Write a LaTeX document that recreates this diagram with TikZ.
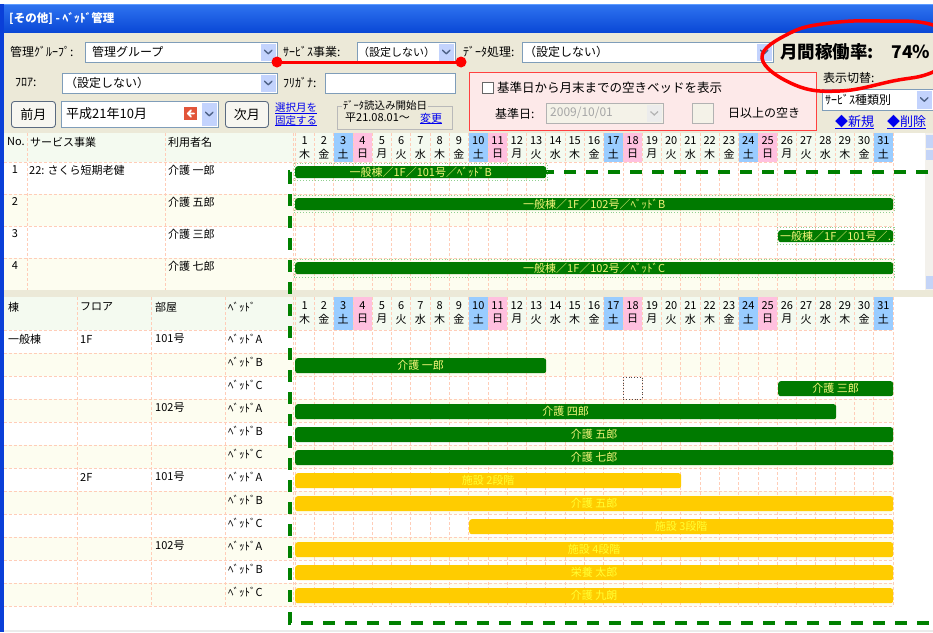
\documentclass[tikz,border=0pt]{standalone}
\usepackage{fontspec}
\setmainfont{Noto Sans CJK JP}
\definecolor{beige}{HTML}{ECE9D8}
\definecolor{titlet}{HTML}{2F74F0}
\definecolor{titleb}{HTML}{0A48D6}
\definecolor{titlel}{HTML}{5C9BFF}
\definecolor{framec}{HTML}{0A3FD8}
\definecolor{gridc}{HTML}{FFCDB8}
\definecolor{lyel}{HTML}{FDFDF0}
\definecolor{hdr}{HTML}{F4FAF0}
\definecolor{sat}{HTML}{99CCFF}
\definecolor{sun}{HTML}{FFC0DF}
\definecolor{barg}{HTML}{007A00}
\definecolor{bary}{HTML}{FFCC00}
\definecolor{txg}{HTML}{F4F47A}
\definecolor{txy}{HTML}{FFFF33}
\definecolor{dgreen}{HTML}{008000}
\definecolor{lgreen}{HTML}{8FD08F}
\definecolor{cbtn}{HTML}{C3D3FD}
\definecolor{chevc}{HTML}{4D6185}
\definecolor{boxb}{HTML}{7F9DB9}
\definecolor{linkc}{HTML}{0000EE}
\definecolor{pinkbg}{HTML}{FDE9E9}
\definecolor{btnb}{HTML}{5A6A80}
\definecolor{btnf}{HTML}{F7F6F0}
\definecolor{sbtrack}{HTML}{F3F1EC}
\definecolor{sbbtn}{HTML}{C4D4F7}
\definecolor{arrowc}{HTML}{E2553A}
\newcommand{\mycmb}[4]{%
  \draw[inbox] (#1,#2) rectangle (#3,#4);
  \fill[cbtn] ({#3-16},{#2+1.5}) rectangle ({#3-1.5},{#4-1.5});
  \draw[chv] ({#3-12.5},{(#2+#4)/2-1.8}) -- ({#3-8.75},{(#2+#4)/2+1.8}) -- ({#3-5},{(#2+#4)/2-1.8});
}
\begin{document}
\begin{tikzpicture}[x=1pt,y=-1pt,
  lbl/.style={anchor=west,inner sep=0pt,font=\fontsize{12}{14}\selectfont},
  sm/.style={anchor=west,inner sep=0pt,font=\fontsize{11}{13}\selectfont},
  cell/.style={inner sep=0pt,font=\fontsize{11}{13}\selectfont},
  gl/.style={draw=gridc,dash pattern=on 3pt off 2pt,line width=0.7pt},
  inbox/.style={draw=boxb,fill=white,line width=0.8pt},
  chv/.style={draw=chevc,line width=1.3pt,line cap=round,line join=round},
  btn/.style={draw=btnb,fill=btnf,rounded corners=3pt,line width=0.9pt,minimum height=26pt,anchor=north west,inner sep=0pt,font=\fontsize{13}{15}\selectfont},
  gbar/.style={fill=barg,rounded corners=2.5pt,anchor=north west,inner sep=0pt,text=txg,font=\fontsize{11}{13}\selectfont},
  ybar/.style={fill=bary,rounded corners=2.5pt,anchor=north west,inner sep=0pt,text=txy,font=\fontsize{11}{13}\selectfont,minimum height=15pt},
  lnk/.style={anchor=west,inner sep=0pt,text=linkc,font=\fontsize{11}{13}\selectfont},
  bout/.style={draw=lgreen,dotted,line width=0.9pt},
]
\useasboundingbox (0,0) rectangle (933,632);
\clip (0,0) rectangle (933,632);
% ---------- window background ----------
\fill[white] (0,0) rectangle (933,632);
\fill[beige] (0,32) rectangle (933,133);
\shade[top color=titlet,bottom color=titleb] (0,4) rectangle (933,32);
\draw[titlel,line width=1pt] (0,4.5) -- (933,4.5);
\node[anchor=west,inner sep=0pt,text=white,font=\bfseries\fontsize{11.5}{13}\selectfont] (title) at (9,19) {[その他] - ﾍﾞｯﾄﾞ管理};
% ---------- row 1 of controls ----------
\node[lbl] (lgrp) at (10,52) {管理ｸﾞﾙｰﾌﾟ:};
\mycmb{85}{42}{277}{62}
\node[lbl] (vgrp) at (92,52) {管理グループ};
\node[lbl] (lsvc) at (283,52) {ｻｰﾋﾞｽ事業:};
\mycmb{357}{42}{455}{62}
\node[sm] (vsvc) at (358,52) {（設定しない）};
\node[lbl] (ldat) at (463,52) {ﾃﾞｰﾀ処理:};
\mycmb{522}{42}{773}{62}
\node[lbl] (vdat) at (524,52) {（設定しない）};
\node[anchor=west,inner sep=0pt,font=\bfseries\fontsize{17.5}{20}\selectfont] (rate) at (780,52) {月間稼働率:　74％};
% ---------- row 2 ----------
\node[lbl] (lflr) at (15,83) {ﾌﾛｱ:};
\mycmb{62}{73}{277}{93}
\node[lbl] (vflr) at (65,83) {（設定しない）};
\node[lbl] (lkana) at (283,83) {ﾌﾘｶﾞﾅ:};
\draw[inbox] (325,73) rectangle (455,93);
% pink box
\draw[red!75,fill=pinkbg,line width=0.9pt] (469,72) rectangle (816,130);
\draw[gray!80!black,fill=white,line width=0.8pt] (482,82) rectangle (493,93);
\node[anchor=west,inner sep=0pt,font=\fontsize{12.5}{14}\selectfont] (chk) at (497,88) {基準日から月末までの空きベッドを表示};
\node[lbl] (lbase) at (495,114) {基準日:};
\draw[draw=gray!60,fill=beige!60,line width=0.8pt] (546,103) rectangle (663,123);
\fill[gray!15] (647,104.5) rectangle (661.5,121.5);
\draw[draw=gray!60,line width=1.2pt] (650.5,111.5) -- (654.25,115) -- (658,111.5);
\node[lbl,text=gray!70] (vbase) at (550,113) {2009/10/01};
\draw[draw=gray!60,fill=beige!60,line width=0.8pt] (692,103) rectangle (713,123);
\node[lbl] (lempty) at (728,113) {日以上の空き};
% right side
\node[lbl] (lsw) at (823,78) {表示切替:};
\mycmb{822}{89}{933}{110}
\node[lbl] (vsw) at (825,100) {ｻｰﾋﾞｽ種類別};
\node[lnk,font=\fontsize{13}{15}\selectfont] (lnew) at (835,122) {◆新規};
\node[lnk,font=\fontsize{13}{15}\selectfont] (ldel) at (887,122) {◆削除};
\draw[linkc,line width=0.7pt] ([yshift=-1.5pt]lnew.base west) -- ([yshift=-1.5pt]lnew.base east);
\draw[linkc,line width=0.7pt] ([yshift=-1.5pt]ldel.base west) -- ([yshift=-1.5pt]ldel.base east);
% ---------- row 3 ----------
\node[btn,minimum width=44pt] (prev) at (11,101) {前月};
\draw[inbox] (61,101) rectangle (218,127);
\node[anchor=west,inner sep=0pt,font=\fontsize{13}{15}\selectfont] (month) at (66,114) {平成21年10月};
\fill[arrowc] (184,107) rectangle (197,120);
\draw[white,line width=1.8pt,line cap=round,line join=round] (194,113.5) -- (187.8,113.5) (191,110.3) -- (187.8,113.5) -- (191,116.7);
\fill[cbtn] (202,102.5) rectangle (216.5,125.5);
\draw[chv] (205.5,112.2) -- (209.25,115.8) -- (213,112.2);
\node[btn,minimum width=43pt] (next) at (225,101) {次月};
\node[lnk,font=\fontsize{10.5}{12}\selectfont] (fix1) at (275,108) {選択月を};
\node[lnk,font=\fontsize{10.5}{12}\selectfont] (fix2) at (275,120.5) {固定する};
\draw[linkc,line width=0.7pt] ([yshift=-1.2pt]fix1.base west) -- ([yshift=-1.2pt]fix1.base east);
\draw[linkc,line width=0.7pt] ([yshift=-1.2pt]fix2.base west) -- ([yshift=-1.2pt]fix2.base east);
\draw[gray!55,line width=0.8pt] (337,106) rectangle (452,129);
\node[anchor=west,inner sep=1pt,fill=beige,font=\fontsize{10.5}{12}\selectfont] (gbt) at (342,105.5) {ﾃﾞｰﾀ読込み開始日};
\node[sm] (gbd) at (345,118) {平21.08.01～};
\node[lnk] (gbl) at (420,118) {変更};
\draw[linkc,line width=0.7pt] ([yshift=-1.2pt]gbl.base west) -- ([yshift=-1.2pt]gbl.base east);
% ---------- upper grid ----------
\fill[white] (3.5,133) rectangle (925,290);
\fill[hdr] (3.5,133) rectangle (893,162);
\foreach \r in {1,3} \fill[lyel] (3.5,{162+32*\r}) rectangle (893,{194+32*\r});
\foreach \d in {3,10,17,24,31} \fill[sat] ({295+(\d-1)*19.29},133) rectangle ({295+\d*19.29},162);
\foreach \d in {4,11,18,25} \fill[sun] ({295+(\d-1)*19.29},133) rectangle ({295+\d*19.29},162);
\foreach \k in {0,...,31} \draw[gl] ({295+\k*19.29},133) -- ({295+\k*19.29},290);
\foreach \xx in {27,165,293} \draw[gl] (\xx,133) -- (\xx,290);
\foreach \yy in {162,194,226,258} \draw[gl] (3.5,\yy) -- (893,\yy);
% scrollbar
\fill[sbtrack] (925,133) rectangle (933,290);
\fill[sbbtn] (926,135) rectangle (933,148);
\fill[sbbtn] (926,150) rectangle (933,160);
\fill[sbbtn] (926,276) rectangle (933,289);
% upper header text
\node[sm] (hno) at (7,142) {No.};
\node[sm] (hsvc) at (30,142) {サービス事業};
\node[sm] (husr) at (168,142) {利用者名};
% upper rows text
\node[cell] (n1) at (15,170) {1};
\node[sm] (s1) at (29,170) {22: さくら短期老健};
\node[sm] (u1) at (168,170) {介護 一郎};
\node[cell] (n2) at (15,202) {2};
\node[sm] (u2) at (168,202) {介護 五郎};
\node[cell] (n3) at (15,234) {3};
\node[sm] (u3) at (168,234) {介護 三郎};
\node[cell] (n4) at (15,266) {4};
\node[sm] (u4) at (168,266) {介護 七郎};
% separator
\fill[beige] (3.5,290) rectangle (933,297);
% ---------- lower grid ----------
\fill[white] (3.5,297) rectangle (933,630);
\fill[hdr] (3.5,297) rectangle (893,330);
\foreach \r in {1,3,5,7,9,11} \fill[lyel] (3.5,{330+23*\r}) rectangle (893,{353+23*\r});
\foreach \d in {3,10,17,24,31} \fill[sat] ({295+(\d-1)*19.29},297) rectangle ({295+\d*19.29},330);
\foreach \d in {4,11,18,25} \fill[sun] ({295+(\d-1)*19.29},297) rectangle ({295+\d*19.29},330);
\foreach \k in {0,...,31} \draw[gl] ({295+\k*19.29},297) -- ({295+\k*19.29},606);
\foreach \xx in {77,151,225,293} \draw[gl] (\xx,297) -- (\xx,606);
\foreach \r in {0,...,12} \draw[gl] (3.5,{330+23*\r}) -- (893,{330+23*\r});
% day headers
\foreach \w [count=\d] in {木,金,土,日,月,火,水,木,金,土,日,月,火,水,木,金,土,日,月,火,水,木,金,土,日,月,火,水,木,金,土} {
  \node[cell] (un\d) at ({295+(\d-0.5)*19.29},141) {\d};
  \node[cell] (uw\d) at ({295+(\d-0.5)*19.29},154) {\w};
  \node[cell] (ln\d) at ({295+(\d-0.5)*19.29},306) {\d};
  \node[cell] (lw\d) at ({295+(\d-0.5)*19.29},319) {\w};
}
% lower header text
\node[sm] (hbld) at (8,307) {棟};
\node[sm] (hflr) at (80,307) {フロア};
\node[sm] (hroom) at (155,307) {部屋};
\node[sm] (hbed) at (228,307) {ﾍﾞｯﾄﾞ};
% lower rows text
\node[sm] (b0) at (8,339) {一般棟};
\node[sm] (f0) at (80,339) {1F};
\node[sm] (r0) at (155,339) {101号};
\node[sm] (r3) at (155,408) {102号};
\node[sm] (f6) at (80,477) {2F};
\node[sm] (r6) at (155,477) {101号};
\node[sm] (r9) at (155,546) {102号};
\foreach \r/\bb in {0/A,1/B,2/C,3/A,4/B,5/C,6/A,7/B,8/C,9/A,10/B,11/C}
  \node[sm] (bed\r) at (228,{339+23*\r}) {ﾍﾞｯﾄﾞ\bb};
% ---------- green dashed frame ----------
\draw[dgreen,line width=3.5pt,dash pattern=on 12pt off 10pt] (950,172) -- (290,172) -- (290,623) -- (950,623);
% ---------- upper bars ----------
\draw[bout] (294,163) rectangle (547,180);
\node[gbar,minimum width=251pt,minimum height=12pt] (ub1) at (295,166) {一般棟／1F／101号／ﾍﾞｯﾄﾞB};
\draw[bout] (294,195) rectangle (894,212);
\node[gbar,minimum width=598pt,minimum height=12pt] (ub2) at (295,198) {一般棟／1F／102号／ﾍﾞｯﾄﾞB};
\draw[bout] (777,227) rectangle (894,244);
\node[gbar,minimum width=115pt,minimum height=12pt] (ub3) at (778,230) {};
\begin{scope}
\clip (778,229) rectangle (893,243);
\node[anchor=west,inner sep=0pt,text=txg,font=\fontsize{11}{13}\selectfont] (ub3t) at (780,236.5) {一般棟／1F／101号／…};
\end{scope}
\draw[bout] (294,259) rectangle (894,277);
\node[gbar,minimum width=598pt,minimum height=12pt] (ub4) at (295,262) {一般棟／1F／102号／ﾍﾞｯﾄﾞC};
% ---------- lower bars ----------
\node[gbar,minimum width=251pt,minimum height=15pt] (g1) at (295,358) {介護 一郎};
\node[gbar,minimum width=115pt,minimum height=15pt] (g2) at (778,381) {介護 三郎};
\node[gbar,minimum width=541pt,minimum height=15pt] (g3) at (295,404) {介護 四郎};
\node[gbar,minimum width=598pt,minimum height=15pt] (g4) at (295,427) {介護 五郎};
\node[gbar,minimum width=598pt,minimum height=15pt] (g5) at (295,450) {介護 七郎};
\node[ybar,minimum width=386pt] (y1) at (295,473) {施設 2段階};
\node[ybar,minimum width=598pt] (y2) at (295,496) {介護 五郎};
\node[ybar,minimum width=424pt] (y3) at (469,519) {施設 3段階};
\node[ybar,minimum width=598pt] (y4) at (295,542) {施設 4段階};
\node[ybar,minimum width=598pt] (y5) at (295,565) {栄養 太郎};
\node[ybar,minimum width=598pt] (y6) at (295,588) {介護 九朗};
\draw[black!70,dotted,line width=0.8pt] (623,377) rectangle (642,399);
% bottom edge
\fill[black!8] (3.5,629.5) rectangle (933,632);
% left frame
\fill[framec] (0,4) rectangle (3.5,632);
% ---------- red annotations ----------
\coordinate (ra) at (277,62);
\coordinate (rb) at (461,62);
\draw[red,line width=3pt] (ra) -- (rb);
\fill[red] (ra) circle[radius=5.5pt];
\fill[red] (rb) circle[radius=5.5pt];
\draw[red,line width=3.5pt] plot[smooth cycle,tension=0.7] coordinates {(762,58) (790,33) (830,23) (880,21) (933,25) (966,48) (933,72) (893,81) (840,91) (795,85)};
\end{tikzpicture}
\end{document}
